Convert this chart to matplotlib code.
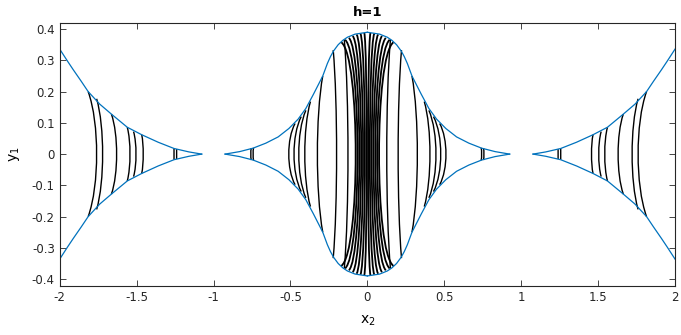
import numpy as np
import matplotlib
matplotlib.use("Agg")
import matplotlib.pyplot as plt
from matplotlib.path import Path
from matplotlib.patches import PathPatch

# ---------------- data ----------------
# upper boundary of the left side lobe (mirrored for right lobe and y<0)
side_bx = [-2.0, -1.95, -1.912, -1.86, -1.815, -1.74, -1.664, -1.561, -1.467, -1.36, -1.257, -1.16, -1.077]
side_by = [0.336, 0.298, 0.270, 0.233, 0.200, 0.160, 0.128, 0.086, 0.062, 0.038, 0.018, 0.007, 0.0]
# upper boundary of the central lobe, right half (mirrored)
cen_bx = [0.0, 0.08, 0.13, 0.16, 0.19, 0.22, 0.24, 0.26, 0.29, 0.35, 0.40, 0.45, 0.51, 0.58, 0.66, 0.743, 0.83, 0.925]
cen_by = [0.390, 0.384, 0.374, 0.364, 0.350, 0.330, 0.312, 0.290, 0.250, 0.192, 0.146, 0.112, 0.082, 0.055, 0.035, 0.019, 0.008, 0.0]

# invariant curves in the left side lobe: x at y=0, x and y where they meet the boundary
side_xmid = [-1.760, -1.721, -1.630, -1.543, -1.504, -1.457, -1.257, -1.240]
side_xend = [-1.815, -1.760, -1.664, -1.561, -1.520, -1.467, -1.257, -1.240]
side_yend = [0.200, 0.177, 0.128, 0.086, 0.072, 0.062, 0.018, 0.016]

# invariant curves in the central lobe, right half
cen_xmid = [0.126, 0.200, 0.325, 0.407, 0.446, 0.477, 0.511, 0.743, 0.758]
cen_xend = [0.150, 0.222, 0.290, 0.370, 0.400, 0.430, 0.470, 0.740, 0.755]
cen_yend = [0.366, 0.333, 0.250, 0.168, 0.140, 0.120, 0.098, 0.020, 0.019]

# chaotic band around x2 = 0 (right half, mirrored)
band_xmid = [0.004, 0.016, 0.028, 0.040, 0.052, 0.064, 0.076]
band_xend = [0.020, 0.045, 0.070, 0.095, 0.120, 0.145, 0.170]
band_yend = [0.388, 0.386, 0.383, 0.378, 0.372, 0.366, 0.358]

title = "h=1"
xticks = [-2, -1.5, -1, -0.5, 0, 0.5, 1, 1.5, 2]
yticks = [-0.4, -0.3, -0.2, -0.1, 0, 0.1, 0.2, 0.3, 0.4]

BLUE = "#0072BD"

plt.rcParams['font.family'] = ['DejaVu Sans']
fig = plt.figure(figsize=(6.81, 3.35), dpi=100)
ax = fig.add_axes([0.0877, 0.1472, 0.9035, 0.7856])


def orbit(ax, xm, xe, ye, sgn=1, k=0.5, lw=1.0):
    xm, xe = sgn * xm, sgn * xe
    cx = (4 * xm - xe) / 3.0
    verts = [(xe, ye), (cx, k * ye), (cx, -k * ye), (xe, -ye)]
    codes = [Path.MOVETO, Path.CURVE4, Path.CURVE4, Path.CURVE4]
    ax.add_patch(PathPatch(Path(verts, codes), fill=False, ec="black", lw=lw))


for s in (1, -1):
    for xm, xe, ye in zip(side_xmid, side_xend, side_yend):
        orbit(ax, xm, xe, ye, s)
    for xm, xe, ye in zip(cen_xmid, cen_xend, cen_yend):
        orbit(ax, xm, xe, ye, s)
    for xm, xe, ye in zip(band_xmid, band_xend, band_yend):
        orbit(ax, xm, xe, ye, s, k=0.88, lw=1.3)

sbx = np.array(side_bx)
sby = np.array(side_by)
cbx = np.array(cen_bx)
cby = np.array(cen_by)
for sx in (1, -1):
    for sy in (1, -1):
        ax.plot(sx * sbx, sy * sby, color=BLUE, lw=0.9)
        ax.plot(sx * cbx, sy * cby, color=BLUE, lw=0.9)

ax.set_xlim(-2, 2)
ax.set_ylim(-0.4212, 0.4212)
ax.set_xticks(xticks)
ax.set_xticklabels([f"{t:g}" for t in xticks])
ax.set_yticks(yticks)
ax.set_yticklabels([f"{t:g}" for t in yticks])
ax.tick_params(direction="in", top=True, right=True, length=4, width=0.6, labelsize=8.5, colors="#262626")
for sp in ax.spines.values():
    sp.set_linewidth(0.8)
    sp.set_color("#262626")
ax.set_title(title, fontsize=9.5, fontweight="bold", pad=5)
ax.set_xlabel("x$_2$", fontsize=10, labelpad=7)
ax.set_ylabel("y$_1$", fontsize=10, labelpad=7)

fig.savefig("out.png", dpi=100)
